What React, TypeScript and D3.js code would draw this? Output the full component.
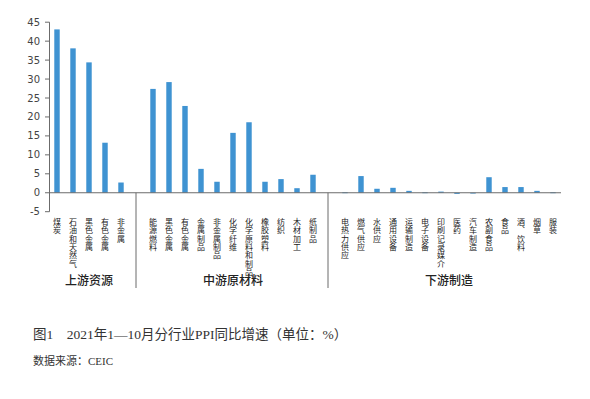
import React from 'react';
import * as d3 from 'd3';

// upstream / midstream / downstream categories and their yoy values (%)
const upstream = ['煤炭', '石油和天然气', '黑色金属', '有色金属', '非金属'];
const upstreamValues = [43.1, 38.1, 34.4, 13.2, 2.7];

const midstream = ['能源燃料', '黑色金属', '有色金属', '金属制品', '非金属制品', '化学纤维', '化学原料和制品', '橡胶塑料', '纺织', '木材加工', '纸制品'];
const midstreamValues = [27.4, 29.2, 22.9, 6.3, 2.9, 15.8, 18.6, 2.9, 3.6, 1.2, 4.75];

const downstream = ['电热力供应', '燃气供应', '水供应', '通用设备', '运输制造', '电子设备', '印刷记录媒介', '医药', '汽车制造', '农副食品', '食品', '酒、饮料', '烟草', '服装'];
const downstreamValues = [0.1, 4.4, 1.05, 1.3, 0.5, 0.1, 0.3, -0.3, -0.2, 4.1, 1.5, 1.5, 0.5, 0.1];

const groupNames = ['上游资源', '中游原材料', '下游制造'];
const yTicks = [-5, 0, 5, 10, 15, 20, 25, 30, 35, 40, 45];

const W = 590;
const H = 399;
const barColor = '#3f93d2';
const axisColor = '#6b6b6b';
const cjk = '"Noto Sans CJK SC", "Noto Sans", sans-serif';
const serif = '"Liberation Serif", "Noto Sans CJK SC", serif';

type Item = { key: string; name: string; value: number | null; group: number };

const items: Item[] = [];
upstream.forEach((n, i) => items.push({ key: 'u' + i, name: n, value: upstreamValues[i], group: 0 }));
items.push({ key: 'gap1', name: '', value: null, group: -1 });
midstream.forEach((n, i) => items.push({ key: 'm' + i, name: n, value: midstreamValues[i], group: 1 }));
items.push({ key: 'gap2', name: '', value: null, group: -1 });
downstream.forEach((n, i) => items.push({ key: 'd' + i, name: n, value: downstreamValues[i], group: 2 }));

export default function App() {
  const x = d3.scaleBand<string>()
    .domain(items.map(d => d.key))
    .range([49, 561])
    .paddingInner(0.66)
    .paddingOuter(0.33);

  const y = d3.scaleLinear().domain([-5, 45]).range([211.7, 22.2]);

  const cx = (k: string) => (x(k) as number) + x.bandwidth() / 2;

  const groupCenter = (g: number) => {
    const ks = items.filter(d => d.group === g).map(d => d.key);
    return (cx(ks[0]) + cx(ks[ks.length - 1])) / 2;
  };

  const separators = ['gap1', 'gap2'].map(k => cx(k) - 1);

  return (
    <svg width={W} height={H} style={{ position: 'absolute', left: 0, top: 0, background: '#fff' }}>
      {/* y axis */}
      <line x1={49.5} x2={49.5} y1={y(45)} y2={y(-5)} stroke={axisColor} strokeWidth={1} />
      {yTicks.map(t => (
        <g key={t}>
          <line x1={45} x2={49.5} y1={y(t)} y2={y(t)} stroke={axisColor} />
          <text x={40} y={y(t)} dy="0.35em" textAnchor="end" fontSize={10} fill="#444"
            fontFamily='"DejaVu Sans", sans-serif'>{t}</text>
        </g>
      ))}

      {/* bars */}
      {items.filter(d => d.value !== null).map(d => {
        const v = d.value as number;
        return (
          <rect key={d.key} x={x(d.key)} width={x.bandwidth()}
            y={Math.min(y(v), y(0))} height={Math.max(0.8, Math.abs(y(v) - y(0)))}
            fill={barColor} />
        );
      })}

      {/* x axis line */}
      <line x1={49} x2={561} y1={y(0)} y2={y(0)} stroke={axisColor} strokeWidth={1} />

      {/* group separators */}
      {separators.map((sx, i) => (
        <line key={i} x1={sx} x2={sx} y1={y(0)} y2={288} stroke={axisColor} strokeWidth={1} />
      ))}

      {/* category labels, vertical */}
      {items.filter(d => d.name).map(d => (
        <text key={d.key} x={cx(d.key)} y={218} fontSize={8} fill="#222" fontFamily={cjk}
          style={{ writingMode: 'vertical-rl' as any, letterSpacing: '0.3px' }}>
          {d.name}
        </text>
      ))}

      {/* group names */}
      {groupNames.map((g, i) => (
        <text key={g} x={groupCenter(i)} y={285} textAnchor="middle" fontSize={12} fontWeight={500}
          fill="#222" fontFamily={cjk}>{g}</text>
      ))}

      {/* caption */}
      <text x={33} y={339} fontSize={13.5} fill="#333" fontFamily={serif}>
        图1　2021年1—10月分行业PPI同比增速（单位：%）
      </text>
      <text x={33} y={365} fontSize={11} fill="#333" fontFamily={serif}>
        数据来源：CEIC
      </text>
    </svg>
  );
}
